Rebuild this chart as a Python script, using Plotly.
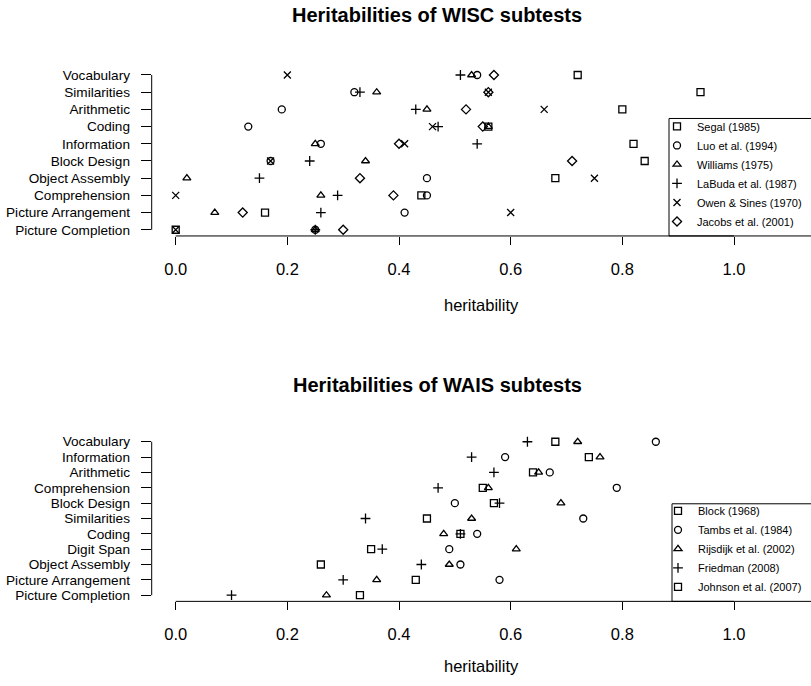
import plotly.graph_objects as go

# ---------------- data ----------------
wisc_subtests = ["Vocabulary", "Similarities", "Arithmetic", "Coding", "Information",
                 "Block Design", "Object Assembly", "Comprehension",
                 "Picture Arrangement", "Picture Completion"]
segal_1985 = [0.72, 0.94, 0.80, 0.56, 0.82, 0.84, 0.68, 0.44, 0.16, 0.00]
luo_1994 = [0.54, 0.32, 0.19, 0.13, 0.26, 0.17, 0.45, 0.45, 0.41, 0.25]
williams_1975 = [0.53, 0.36, 0.45, 0.56, 0.25, 0.34, 0.02, 0.26, 0.07, 0.25]
labuda_1987 = [0.51, 0.33, 0.43, 0.47, 0.54, 0.24, 0.15, 0.29, 0.26, 0.25]
owen_sines_1970 = [0.20, 0.56, 0.66, 0.46, 0.41, 0.17, 0.75, 0.00, 0.60, 0.00]
jacobs_2001 = [0.57, 0.56, 0.52, 0.55, 0.40, 0.71, 0.33, 0.39, 0.12, 0.30]

wais_subtests = ["Vocabulary", "Information", "Arithmetic", "Comprehension",
                 "Block Design", "Similarities", "Coding", "Digit Span",
                 "Object Assembly", "Picture Arrangement", "Picture Completion"]
block_1968 = [0.68, 0.74, 0.64, 0.55, 0.57, 0.45, 0.51, 0.35, 0.26, 0.43, 0.33]
tambs_1984 = [0.86, 0.59, 0.67, 0.79, 0.50, 0.73, 0.54, 0.49, 0.51, 0.58, None]
rijsdijk_2002 = [0.72, 0.76, 0.65, 0.56, 0.69, 0.53, 0.48, 0.61, 0.49, 0.36, 0.27]
friedman_2008 = [0.63, 0.53, 0.57, 0.47, 0.58, 0.34, 0.51, 0.37, 0.44, 0.30, 0.10]
johnson_2007 = [None] * 11

x_tick_values = [0.0, 0.2, 0.4, 0.6, 0.8, 1.0]
x_tick_labels = ["0.0", "0.2", "0.4", "0.6", "0.8", "1.0"]

wisc_series = [
    ("Segal (1985)", segal_1985, "square-open"),
    ("Luo et al. (1994)", luo_1994, "circle-open"),
    ("Williams (1975)", williams_1975, "triangle-up-open"),
    ("LaBuda et al. (1987)", labuda_1987, "cross-thin-open"),
    ("Owen & Sines (1970)", owen_sines_1970, "x-thin-open"),
    ("Jacobs et al. (2001)", jacobs_2001, "diamond-open"),
]
wais_series = [
    ("Block (1968)", block_1968, "square-open"),
    ("Tambs et al. (1984)", tambs_1984, "circle-open"),
    ("Rijsdijk et al. (2002)", rijsdijk_2002, "triangle-up-open"),
    ("Friedman (2008)", friedman_2008, "cross-thin-open"),
    ("Johnson et al. (2007)", johnson_2007, "square-open"),
]

# ---------------- layout constants ----------------
W, H = 811, 686
FONT = "Liberation Sans, Arial, Helvetica, sans-serif"
PX_LEFT = 151.7          # y-axis line position (px)
PX_ZERO = 175.7          # x = 0 (px)
PX_UNIT = 558.3          # px per heritability unit
XMIN = -(PX_ZERO - PX_LEFT) / PX_UNIT
XMAX = (W - PX_ZERO) / PX_UNIT
XDOM = [PX_LEFT / W, 1.0]


def ydom(top_px, bottom_px):
    return [(H - bottom_px) / H, (H - top_px) / H]


top_dom = ydom(68.1, 236.0)
bot_dom = ydom(436.5, 603.0)

fig = go.Figure()

for name, vals, sym in wisc_series:
    fig.add_trace(go.Scatter(
        x=vals, y=wisc_subtests, mode="markers", name=name,
        xaxis="x", yaxis="y", legend="legend",
        marker=dict(symbol=sym, size=7, color="black",
                    line=dict(color="black", width=1.3)),
        cliponaxis=False,
    ))
for name, vals, sym in wais_series:
    fig.add_trace(go.Scatter(
        x=vals, y=wais_subtests, mode="markers", name=name,
        xaxis="x2", yaxis="y2", legend="legend2",
        marker=dict(symbol=sym, size=7, color="black",
                    line=dict(color="black", width=1.3)),
        cliponaxis=False,
    ))

xaxis_common = dict(
    range=[XMIN, XMAX], domain=XDOM, tickvals=x_tick_values, ticktext=x_tick_labels,
    ticks="outside", ticklen=8, tickwidth=1, tickcolor="black",
    showgrid=False, zeroline=False, showline=False,
    tickfont=dict(size=16.5, family=FONT, color="black"), ticklabelstandoff=10,
)
yaxis_common = dict(
    type="category", ticks="outside", ticklen=10, tickwidth=1, tickcolor="black",
    showgrid=False, zeroline=False, showline=False, tickmode="array",
    tickfont=dict(size=13.6, family=FONT, color="black"), ticklabelstandoff=8,
)

n1, n2 = len(wisc_subtests), len(wais_subtests)
fig.update_layout(
    width=W, height=H, autosize=False,
    margin=dict(l=0, r=0, t=0, b=0),
    paper_bgcolor="white", plot_bgcolor="white",
    font=dict(family=FONT, color="black"),
    xaxis=dict(anchor="y", **xaxis_common),
    yaxis=dict(anchor="x", domain=top_dom, categoryorder="array",
               categoryarray=wisc_subtests[::-1], range=[-0.36, n1 - 1 + 0.36],
               tickvals=wisc_subtests, ticktext=wisc_subtests, **yaxis_common),
    xaxis2=dict(anchor="y2", **xaxis_common),
    yaxis2=dict(anchor="x2", domain=bot_dom, categoryorder="array",
                categoryarray=wais_subtests[::-1], range=[-0.4, n2 - 1 + 0.4],
                tickvals=wais_subtests, ticktext=wais_subtests, **yaxis_common),
    legend=dict(x=(699 - 42) / W, xanchor="left", y=top_dom[0], yanchor="bottom",
                bgcolor="rgba(0,0,0,0)", borderwidth=0,
                font=dict(size=11, family=FONT, color="black"), tracegroupgap=0),
    legend2=dict(x=(700 - 42) / W, xanchor="left", y=bot_dom[0], yanchor="bottom",
                 bgcolor="rgba(0,0,0,0)", borderwidth=0,
                 font=dict(size=11, family=FONT, color="black"), tracegroupgap=0),
)

line_style = dict(color="black", width=1)
shapes = [
    # R-style axis lines
    dict(type="line", xref="x", yref="y domain", x0=0, x1=1, y0=0, y1=0, line=line_style),
    dict(type="line", xref="x domain", yref="y", x0=0, x1=0, y0=0, y1=n1 - 1, line=line_style),
    dict(type="line", xref="x2", yref="y2 domain", x0=0, x1=1, y0=0, y1=0, line=line_style),
    dict(type="line", xref="x2 domain", yref="y2", x0=0, x1=0, y0=0, y1=n2 - 1, line=line_style),
    # legend boxes
    dict(type="rect", xref="paper", yref="paper", x0=669 / W, x1=1.01,
         y0=top_dom[0], y1=(H - 118) / H, line=line_style),
    dict(type="rect", xref="paper", yref="paper", x0=672 / W, x1=1.01,
         y0=bot_dom[0], y1=(H - 505) / H, line=line_style),
]
fig.update_layout(shapes=shapes)

annotations = [
    dict(text="<b>Heritabilities of WISC subtests</b>", x=437 / W, y=(H - 14) / H,
         font=dict(size=20)),
    dict(text="heritability", x=481 / W, y=(H - 305) / H, font=dict(size=16.5)),
    dict(text="<b>Heritabilities of WAIS subtests</b>", x=437 / W, y=(H - 386) / H,
         font=dict(size=20)),
    dict(text="heritability", x=481 / W, y=(H - 668) / H, font=dict(size=16.5)),
]
for a in annotations:
    a.update(xref="paper", yref="paper", showarrow=False, xanchor="center", yanchor="middle")
    a["font"].update(family=FONT, color="black")
fig.update_layout(annotations=annotations)

fig.write_html(
    "out.html",
    config={"displayModeBar": False},
    post_script="document.body.style.margin='0px';document.body.style.overflow='hidden';",
)
